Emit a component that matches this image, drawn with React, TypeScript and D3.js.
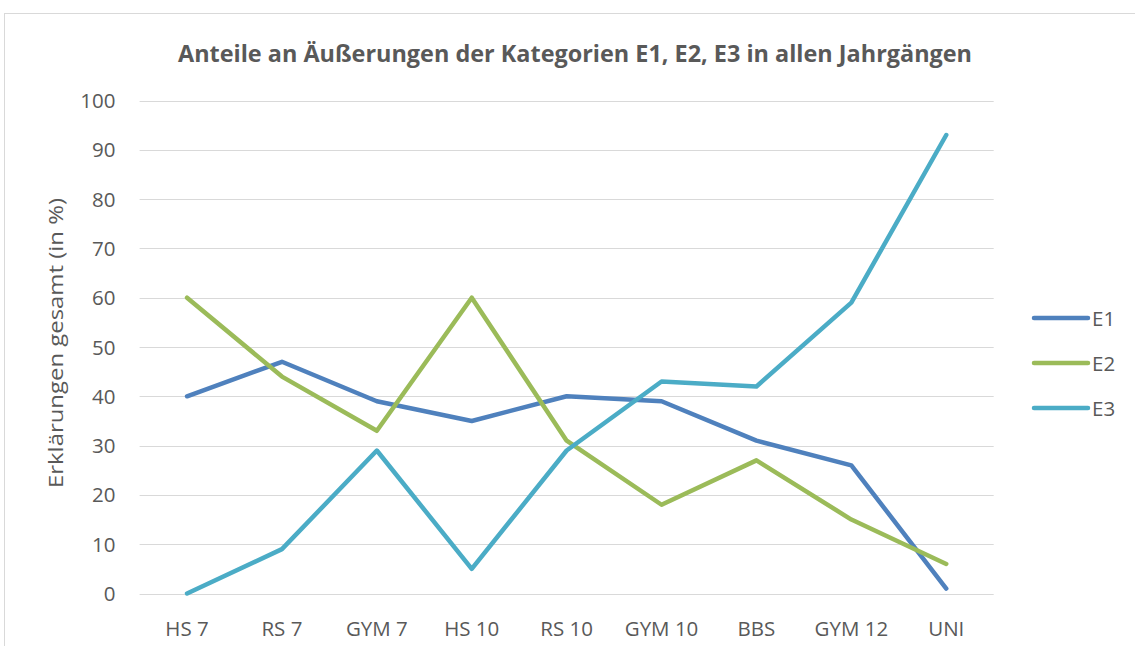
import React from "react";
import * as d3 from "d3";

const categories = ["HS 7", "RS 7", "GYM 7", "HS 10", "RS 10", "GYM 10", "BBS", "GYM 12", "UNI"];
const e1 = [40, 47, 39, 35, 40, 39, 31, 26, 1];
const e2 = [60, 44, 33, 60, 31, 18, 27, 15, 6];
const e3 = [0, 9, 29, 5, 29, 43, 42, 59, 93];
const yTicks = [0, 10, 20, 30, 40, 50, 60, 70, 80, 90, 100];
const seriesNames = ["E1", "E2", "E3"];
const seriesColors = ["#4F81BD", "#9BBB59", "#4BACC6"];

export default function App() {
  const W = 1135, H = 646;
  const x = d3.scaleBand<string>().domain(categories).range([139.6, 993.7]);
  const y = d3.scaleLinear().domain([0, 100]).range([593.5, 100.5]);
  const line = d3.line<number>()
    .x((_, i) => (x(categories[i]) as number) + x.bandwidth() / 2)
    .y((d) => y(d));
  const series = [e1, e2, e3];
  const font = "'Open Sans', 'Liberation Sans', sans-serif";
  const textColor = "#595959";
  const fs = 20.5;
  return (
    <svg width={W} height={H} style={{ position: "absolute", left: 0, top: 0 }}>
      <rect x={0} y={0} width={W} height={H} fill="#fff" />
      <rect x={4.5} y={13.5} width={W + 10} height={H} fill="none" stroke="#d9d9d9" />
      <text x={575} y={62} textAnchor="middle" fontFamily={font} fontWeight="bold" fontSize={24}
        fill={textColor} textLength={794} lengthAdjust="spacingAndGlyphs">
        Anteile an Äußerungen der Kategorien E1, E2, E3 in allen Jahrgängen
      </text>
      {yTicks.map((t) => (
        <g key={t}>
          <line x1={139.6} x2={993.7} y1={Math.round(y(t)) + 0.5} y2={Math.round(y(t)) + 0.5} stroke="#d9d9d9" strokeWidth={1} />
          <text x={115.5} y={y(t) + 7.5} textAnchor="end" fontFamily={font} fontSize={fs} fill={textColor}>{t}</text>
        </g>
      ))}
      {categories.map((c) => (
        <text key={c} x={(x(c) as number) + x.bandwidth() / 2} y={636} textAnchor="middle"
          fontFamily={font} fontSize={fs} fill={textColor}>{c}</text>
      ))}
      <text transform={`translate(63,343) rotate(-90)`} textAnchor="middle" fontFamily={font}
        fontSize={fs} fill={textColor} textLength={290} lengthAdjust="spacingAndGlyphs">Erklärungen gesamt (in %)</text>
      {series.map((s, i) => (
        <path key={i} d={line(s) as string} fill="none" stroke={seriesColors[i]} strokeWidth={4.5}
          strokeLinejoin="round" strokeLinecap="round" />
      ))}
      {seriesNames.map((n, i) => {
        const ly = [318, 363, 408][i];
        return (
          <g key={n}>
            <line x1={1034} x2={1088} y1={ly} y2={ly} stroke={seriesColors[i]} strokeWidth={4.5} strokeLinecap="round" />
            <text x={1092} y={ly + 8} fontFamily={font} fontSize={fs} fill={textColor}>{n}</text>
          </g>
        );
      })}
    </svg>
  );
}
